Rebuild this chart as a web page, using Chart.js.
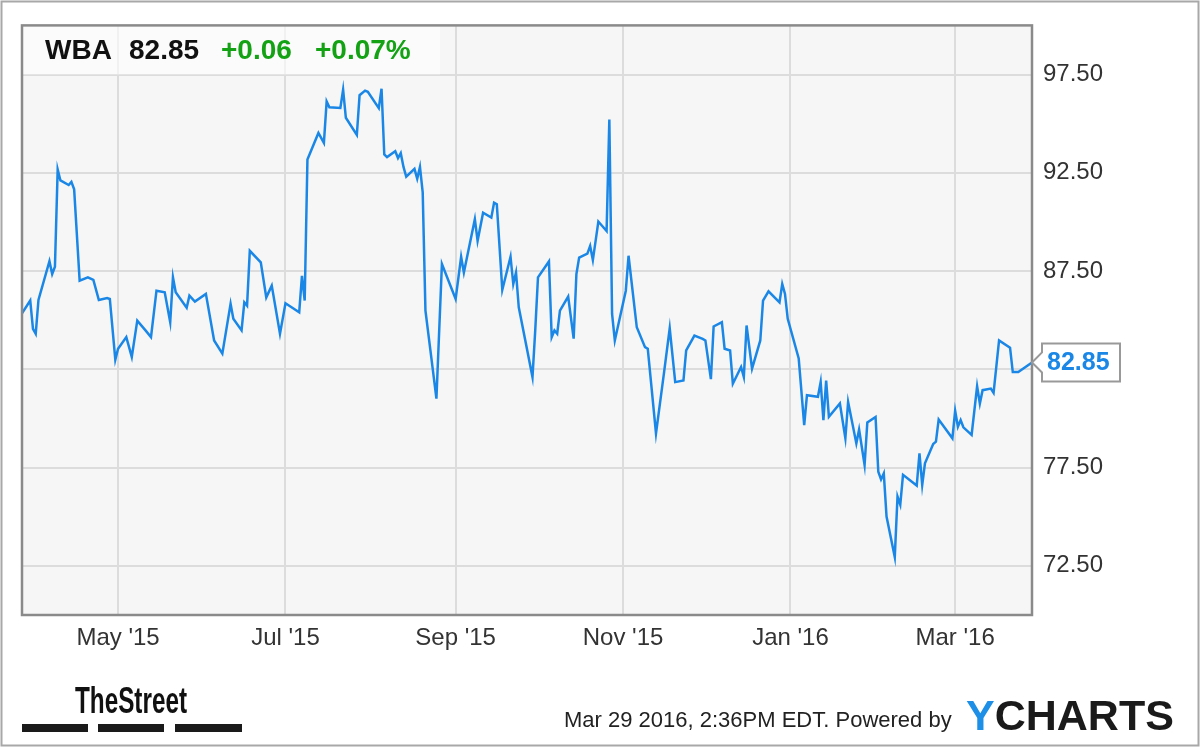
<!DOCTYPE html>
<html><head><meta charset="utf-8">
<script src="https://cdn.jsdelivr.net/npm/chart.js@4.4.1/dist/chart.umd.min.js"></script>
<style>html,body{margin:0;padding:0;background:#fff}canvas{display:block}</style>
</head><body>
<canvas id="c" width="1200" height="747"></canvas>
<script>
// ---- data ----
const dates = ['2015-03-27','2015-03-30','2015-03-31','2015-04-01','2015-04-02','2015-04-06','2015-04-07','2015-04-08','2015-04-09','2015-04-10',
'2015-04-13','2015-04-14','2015-04-15','2015-04-17','2015-04-20','2015-04-22','2015-04-24','2015-04-27','2015-04-28','2015-04-30',
'2015-05-01','2015-05-04','2015-05-06','2015-05-08','2015-05-11','2015-05-13','2015-05-15','2015-05-18','2015-05-20','2015-05-21',
'2015-05-22','2015-05-26','2015-05-27','2015-05-29','2015-06-02','2015-06-05','2015-06-08','2015-06-11','2015-06-12','2015-06-15',
'2015-06-16','2015-06-17','2015-06-18','2015-06-22','2015-06-24','2015-06-26','2015-06-29','2015-07-01','2015-07-06','2015-07-07',
'2015-07-08','2015-07-09','2015-07-13','2015-07-15','2015-07-16','2015-07-17','2015-07-21','2015-07-22','2015-07-23','2015-07-27',
'2015-07-28','2015-07-30','2015-07-31','2015-08-04','2015-08-05','2015-08-06','2015-08-07','2015-08-10','2015-08-11','2015-08-12',
'2015-08-13','2015-08-14','2015-08-17','2015-08-18','2015-08-19','2015-08-20','2015-08-21','2015-08-25','2015-08-27','2015-09-01',
'2015-09-03','2015-09-04','2015-09-08','2015-09-09','2015-09-11','2015-09-14','2015-09-15','2015-09-16','2015-09-18','2015-09-21',
'2015-09-22','2015-09-23','2015-09-24','2015-09-29','2015-09-30','2015-10-01','2015-10-05','2015-10-06','2015-10-07','2015-10-08',
'2015-10-09','2015-10-12','2015-10-14','2015-10-15','2015-10-16','2015-10-19','2015-10-20','2015-10-21','2015-10-23','2015-10-26',
'2015-10-27','2015-10-28','2015-10-29','2015-11-02','2015-11-03','2015-11-06','2015-11-09','2015-11-10','2015-11-13','2015-11-16',
'2015-11-18','2015-11-20','2015-11-23','2015-11-24','2015-11-27','2015-11-30','2015-12-01','2015-12-03','2015-12-04','2015-12-07',
'2015-12-08','2015-12-10','2015-12-11','2015-12-14','2015-12-15','2015-12-16','2015-12-18','2015-12-21','2015-12-22','2015-12-24',
'2015-12-28','2015-12-29','2015-12-30','2015-12-31','2016-01-04','2016-01-06','2016-01-07','2016-01-11','2016-01-12','2016-01-13',
'2016-01-14','2016-01-15','2016-01-19','2016-01-21','2016-01-22','2016-01-25','2016-01-26','2016-01-28','2016-01-29','2016-02-01',
'2016-02-02','2016-02-03','2016-02-04','2016-02-05','2016-02-08','2016-02-09','2016-02-10','2016-02-11','2016-02-16','2016-02-17',
'2016-02-18','2016-02-19','2016-02-22','2016-02-23','2016-02-24','2016-02-29','2016-03-01','2016-03-02','2016-03-03','2016-03-04',
'2016-03-07','2016-03-09','2016-03-10','2016-03-11','2016-03-14','2016-03-15','2016-03-17','2016-03-21','2016-03-22','2016-03-24',
'2016-03-29'];
const prices = [85.35,86.0,84.56,84.31,86.03,88.0,87.35,87.72,92.67,92.11,
91.88,92.04,91.66,87.01,87.18,87.05,86.03,86.13,86.08,82.99,
83.55,84.14,83.13,84.98,84.48,84.14,86.5,86.42,84.9,87.18,
86.42,85.63,86.25,85.95,86.34,83.97,83.3,85.83,85.07,84.48,
85.91,85.74,88.53,87.94,86.16,86.76,84.31,85.86,85.4,87.26,
86.0,93.18,94.53,94.02,96.13,95.83,95.8,96.73,95.3,94.43,
96.45,96.68,96.62,95.79,96.78,93.43,93.3,93.6,93.25,93.5,
92.8,92.3,92.7,92.2,92.8,91.5,85.49,81.01,87.86,86.08,
88.23,87.43,90.14,89.04,90.47,90.22,90.98,90.9,86.54,88.23,
86.84,87.43,85.66,82.11,84.48,87.18,87.99,84.14,84.48,84.31,
85.49,86.2,84.06,87.35,88.19,88.39,88.78,88.06,90.02,89.54,
95.21,85.32,83.97,86.5,88.28,84.64,83.63,83.55,79.24,82.41,
84.59,81.85,81.93,83.46,84.22,84.05,83.97,82.0,84.68,84.9,
83.55,83.46,81.77,82.62,82.11,84.73,82.54,83.97,85.99,86.47,
85.91,86.84,86.34,85.07,83.05,79.66,81.18,81.1,81.85,79.91,
81.93,80.08,80.76,78.99,80.84,78.73,79.44,77.63,79.8,80.08,
77.29,76.9,77.21,75.01,72.95,76.03,75.61,77.13,76.59,78.23,
76.62,77.72,78.7,78.82,79.95,78.99,80.39,79.58,79.92,79.55,
79.16,81.64,80.76,81.44,81.52,81.3,83.97,83.6,82.36,82.36,
82.85];
const tickDates = ['2015-05-01','2015-07-01','2015-09-01','2015-11-01','2016-01-01','2016-03-01'];
const tickLabels = ["May '15","Jul '15","Sep '15","Nov '15","Jan '16","Mar '16"];
const yTicks = [72.5,77.5,82.5,87.5,92.5,97.5];
const ticker = 'WBA', lastPrice = '82.85', change = '+0.06', changePct = '+0.07%';
const stamp = 'Mar 29 2016, 2:36PM EDT. Powered by';
const brand = 'TheStreet';

// ---- helpers ----
const dayNum = s => Date.parse(s + 'T00:00:00Z') / 86400000;
const points = dates.map((d, i) => ({x: dayNum(d), y: prices[i]}));
const BLUE = '#1a87e6';
const FONT = '"Liberation Sans", Arial, sans-serif';

const deco = {
  id: 'deco',
  beforeDraw(c) {
    const ctx = c.ctx, a = c.chartArea;
    ctx.save();
    ctx.fillStyle = '#fff'; ctx.fillRect(0, 0, c.width, c.height);
    ctx.fillStyle = '#f6f6f6'; ctx.fillRect(a.left, a.top, a.right - a.left, a.bottom - a.top);
    ctx.restore();
  },
  beforeDatasetsDraw(c) {
    const ctx = c.ctx, a = c.chartArea;
    ctx.save();
    ctx.fillStyle = 'rgba(255,255,255,0.6)';
    ctx.fillRect(a.left, a.top, 418, 49);
    ctx.restore();
  },
  afterDraw(c) {
    const ctx = c.ctx, a = c.chartArea;
    ctx.save();
    // plot frame
    ctx.strokeStyle = '#8a8a8a'; ctx.lineWidth = 2.5;
    ctx.strokeRect(a.left, a.top, a.right - a.left, a.bottom - a.top);
    // outer frame
    ctx.strokeStyle = '#a8a8a8'; ctx.lineWidth = 2;
    ctx.strokeRect(1.5, 1.5, 1197, 744);
    // header
    ctx.textBaseline = 'alphabetic'; ctx.textAlign = 'left';
    ctx.font = 'bold 28px ' + FONT;
    ctx.fillStyle = '#111'; ctx.fillText(ticker, 45, 59); ctx.fillText(lastPrice, 129, 59);
    ctx.fillStyle = '#13a213'; ctx.fillText(change, 221, 59); ctx.fillText(changePct, 315, 59);
    // last price flag
    const yp = c.scales.y.getPixelForValue(prices[prices.length - 1]);
    const L = a.right + 10, R = 1120, T = yp - 19, B = yp + 19;
    ctx.beginPath();
    ctx.moveTo(L, T); ctx.lineTo(R, T); ctx.lineTo(R, B); ctx.lineTo(L, B);
    ctx.lineTo(L, yp + 10); ctx.lineTo(a.right, yp); ctx.lineTo(L, yp - 10); ctx.closePath();
    ctx.fillStyle = '#fff'; ctx.fill();
    ctx.strokeStyle = '#999'; ctx.lineWidth = 2; ctx.stroke();
    ctx.font = 'bold 25px ' + FONT; ctx.fillStyle = BLUE; ctx.textBaseline = 'middle';
    ctx.fillText(lastPrice, 1047, yp + 1);
    // footer
    ctx.textBaseline = 'alphabetic';
    ctx.fillStyle = '#111'; ctx.font = 'bold 36px ' + FONT;
    ctx.fillText(brand, 75, 713, 112);
    ctx.fillStyle = '#1a1a1a';
    ctx.fillRect(22, 724, 66, 8); ctx.fillRect(98, 724, 66, 8); ctx.fillRect(175, 724, 67, 8);
    ctx.font = '22px ' + FONT; ctx.fillStyle = '#222';
    ctx.fillText(stamp, 564, 727);
    ctx.font = 'bold 43px ' + FONT;
    ctx.fillStyle = '#1e8fe6'; ctx.fillText('Y', 966, 730);
    const yw = ctx.measureText('Y').width;
    ctx.fillStyle = '#1a1a1a'; ctx.fillText('CHARTS', 966 + yw, 730);
    ctx.restore();
  }
};

new Chart(document.getElementById('c'), {
  type: 'line',
  data: { datasets: [{ data: points, borderColor: BLUE, borderWidth: 2.5, pointRadius: 0, tension: 0, fill: false }] },
  options: {
    responsive: false, animation: false, devicePixelRatio: 1,
    layout: { padding: { left: 22, top: 22, right: 0, bottom: 0 } },
    plugins: { legend: { display: false }, tooltip: { enabled: false } },
    scales: {
      x: {
        type: 'linear', position: 'bottom',
        min: dayNum(dates[0]), max: dayNum(dates[dates.length - 1]),
        afterBuildTicks: s => { s.ticks = tickDates.map(d => ({ value: dayNum(d) })); },
        afterFit: s => { s.height = 132; },
        ticks: { autoSkip: false, maxRotation: 0, padding: 9, color: '#333', font: { size: 24, family: FONT },
                 callback: (v, i) => tickLabels[i] },
        grid: { color: '#dcdcdc', lineWidth: 2, drawTicks: false },
        border: { display: false }
      },
      y: {
        position: 'right', min: 70, max: 100,
        afterBuildTicks: s => { s.ticks = yTicks.map(v => ({ value: v })); },
        afterFit: s => { s.width = 168; },
        ticks: { padding: 11, color: '#333', font: { size: 24, family: FONT }, callback: v => v.toFixed(2) },
        grid: { color: '#dcdcdc', lineWidth: 2, drawTicks: false },
        border: { display: false }
      }
    }
  },
  plugins: [deco]
});
</script>
</body></html>
